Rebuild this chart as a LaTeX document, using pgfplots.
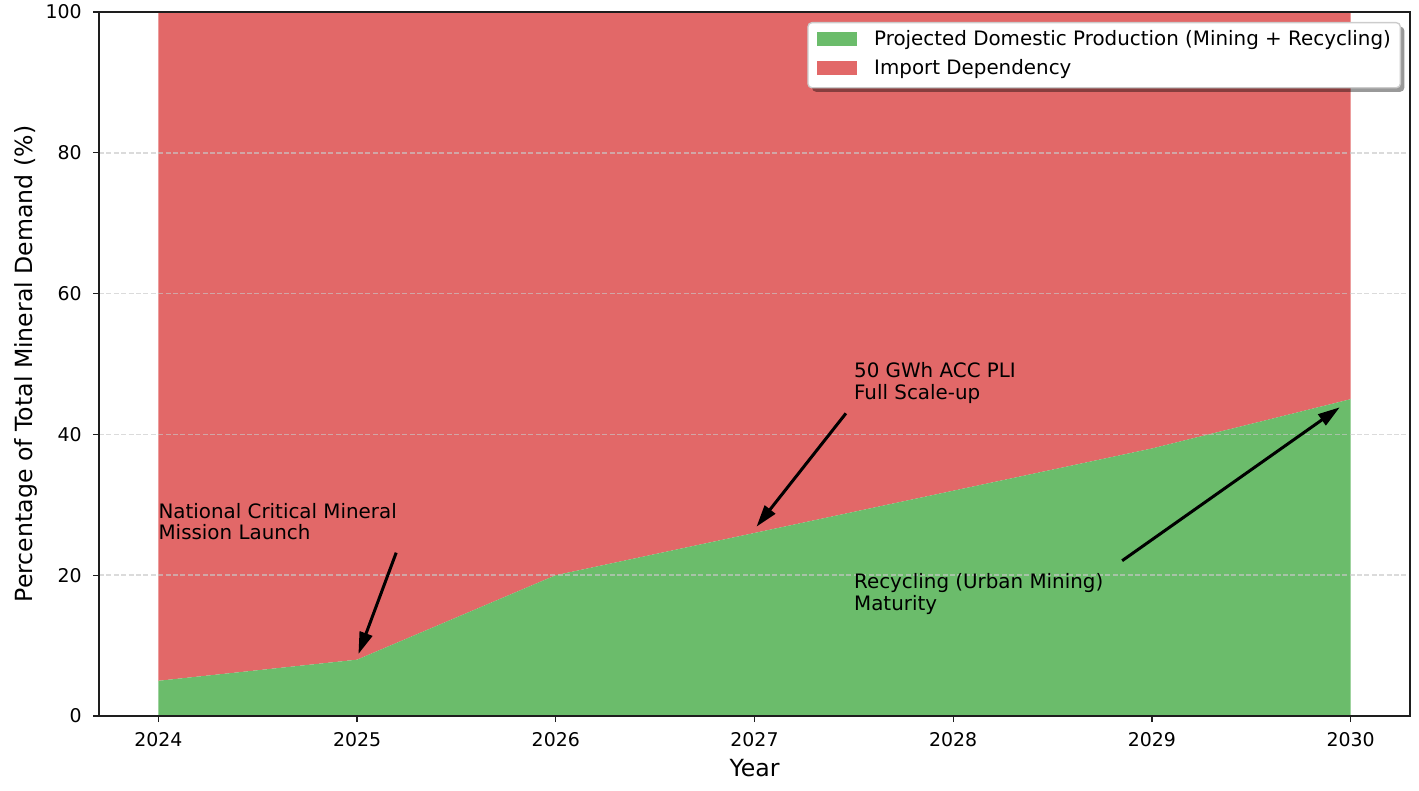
\documentclass[border=0pt]{standalone}
\usepackage{pgfplots}
\pgfplotsset{compat=1.18}
\usepackage{fontspec}
\setmainfont{DejaVu Sans}
\usetikzlibrary{arrows.meta,shadows}
\newlength\px \setlength\px{0.72bp}
\makeatletter
\tikzset{no preactions/.code={\let\tikz@preactions\pgfutil@empty}}
\makeatother
\definecolor{cgreen}{RGB}{107,188,107}
\definecolor{cred}{RGB}{226,104,104}
\definecolor{gridc}{RGB}{200,200,200}
\definecolor{spine}{RGB}{30,30,30}
\definecolor{legborder}{RGB}{204,204,204}
\newcommand\tickfont{\fontsize{13.6bp}{16bp}\selectfont}
\newcommand\annfont{\fontsize{14.3bp}{17bp}\selectfont}
\newcommand\labfont{\fontsize{17bp}{20bp}\selectfont}

\begin{document}
\begin{tikzpicture}
\path[use as bounding box] (0,0) rectangle (1419\px,790\px);
\begin{axis}[
  at={(99\px,74\px)}, anchor=south west,
  scale only axis, width=1311\px, height=704\px,
  xmin=2023.7015, xmax=2030.2985, ymin=0, ymax=100,
  xtick={2024,2025,2026,2027,2028,2029,2030},
  xticklabels={2024,2025,2026,2027,2028,2029,2030},
  ytick={0,20,40,60,80,100},
  yticklabels={0,20,40,60,80,100},
  tick align=outside, tick pos=left,
  major tick length=6\px,
  every tick/.style={spine, line width=1.33\px},
  axis line style={spine, line width=1.33\px},
  ymajorgrids,
  major grid style={gridc, opacity=0.65, line width=1.5\px, dash pattern=on 5\px off 2.4\px},
  axis on top,
  ticklabel style={font=\tickfont},
  xticklabel style={anchor=base, inner sep=0pt, yshift=-24\px},
  yticklabel style={anchor=east, inner sep=0pt, xshift=-11\px},
  xlabel={Year},
  ylabel={Percentage of Total Mineral Demand (\%)},
  label style={font=\labfont, inner sep=0pt},
  xlabel style={at={([yshift=-60\px]axis description cs:0.5,0)}, anchor=base},
  ylabel style={at={([xshift=-67\px]axis description cs:0,0.5)}, anchor=base},
  stack plots=y,
  legend image code/.code={\fill[#1, sharp corners, no preactions] (0pt,0pt) rectangle (40\px,14\px);},
  legend style={at={(1,1)}, anchor=north east, xshift=-9\px, yshift=-10\px,
    draw=legborder, line width=1.33\px, rounded corners=4\px, fill=white,
    drop shadow={shadow xshift=4\px, shadow yshift=-4\px, fill=black, opacity=0.4},
    inner xsep=9.5\px, inner ysep=8.2\px, font=\annfont,
    row sep=8.7\px, column sep=16.7\px,
    nodes={inner sep=0pt, text height=15\px, text depth=5\px, anchor=base west}},
  legend cell align=left,
]
\addplot[fill=cgreen, draw=none] coordinates {
  (2024,5) (2025,8) (2026,20) (2027,26) (2028,32) (2029,38) (2030,45)
} \closedcycle;
\addlegendentry{Projected Domestic Production (Mining + Recycling)}
\addplot[fill=cred, draw=none] coordinates {
  (2024,95) (2025,92) (2026,80) (2027,74) (2028,68) (2029,62) (2030,55)
} \closedcycle;
\addlegendentry{Import Dependency}

\coordinate (t1) at (axis cs:2024,25);
\coordinate (t2) at (axis cs:2027.5,45);
\coordinate (t3) at (axis cs:2027.5,15);
\coordinate (a1s) at (axis cs:2025.197,23.2);
\coordinate (a1e) at (axis cs:2025.007,8.8);
\coordinate (a2s) at (axis cs:2027.46,42.99);
\coordinate (a2e) at (axis cs:2027.01,26.89);
\coordinate (a3s) at (axis cs:2028.85,22.06);
\coordinate (a3e) at (axis cs:2029.945,43.85);
\end{axis}

\begin{scope}[every node/.style={anchor=base west, inner sep=0pt, font=\annfont}]
\node at ([yshift=21.7\px]t1) {National Critical Mineral};
\node at (t1) {Mission Launch};
\node at ([yshift=21.6\px]t2) {50 GWh ACC PLI};
\node at (t2) {Full Scale-up};
\node at ([yshift=21.4\px]t3) {Recycling (Urban Mining)};
\node at (t3) {Maturity};
\end{scope}
\begin{scope}[line width=2.16bp, -{Triangle[length=15.8bp, width=9.4bp]}]
\draw (a1s) -- (a1e);
\draw (a2s) -- (a2e);
\draw (a3s) -- (a3e);
\end{scope}
\end{tikzpicture}
\end{document}
